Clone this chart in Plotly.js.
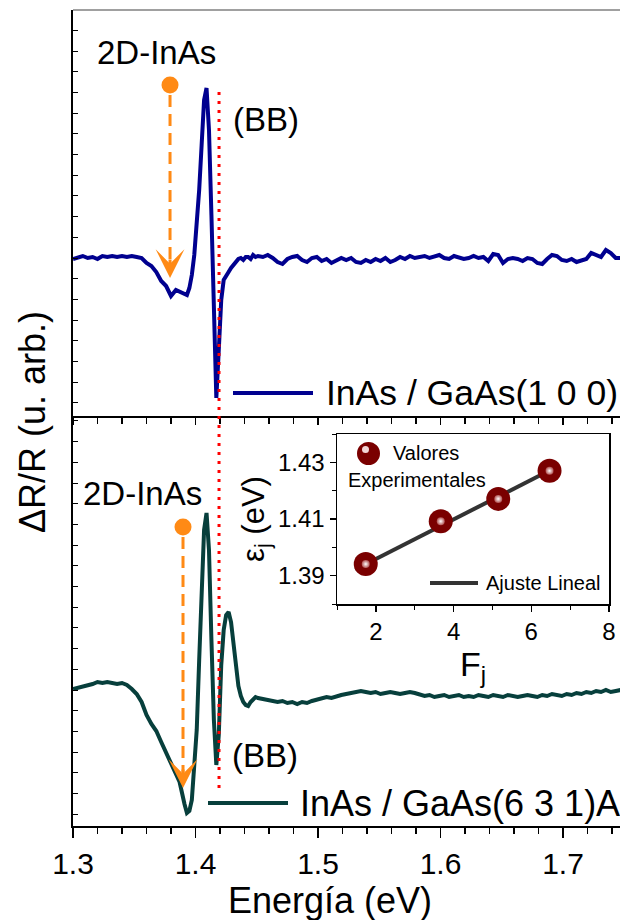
<!DOCTYPE html>
<html><head><meta charset="utf-8">
<script src="https://cdn.plot.ly/plotly-3.0.1.min.js"></script>
<style>html,body{margin:0;padding:0;background:#fff}#chart{width:620px;height:920px}</style>
</head><body><div id="chart"></div>
<script>
// ---- data (arbitrary units for ΔR/R) ----
const energy = [1.300,1.304,1.308,1.312,1.316,1.320,1.324,1.328,1.332,1.336,1.340,1.344,1.348,1.352,1.356,1.360,1.364,1.368,1.372,1.376,1.380,1.384,
1.387,
1.389,1.391,1.393,1.395,1.397,1.399,1.401,1.403,1.405,1.407,1.409,1.411,1.413,1.415,1.417,1.419,1.421,1.423,1.425,1.427,1.429,1.431,1.433,1.435,1.437,1.439,1.441,1.443,1.445,1.447,1.449,1.451,
1.455,1.459,1.463,1.467,1.471,1.475,1.479,1.483,1.487,1.491,1.495,1.499,1.503,1.507,1.511,1.515,1.519,1.523,1.527,1.531,1.535,1.539,1.543,1.547,1.551,1.555,1.559,1.563,1.567,1.571,1.575,1.579,1.583,1.587,1.591,1.595,1.599,1.603,1.607,1.611,1.615,1.619,1.623,1.627,1.631,1.635,1.639,1.643,1.647,1.651,1.655,1.659,1.663,1.667,1.671,1.675,1.679,1.683,1.687,1.691,1.695,1.699,1.703,1.707,1.711,1.715,1.719,1.723,1.727,1.731,1.735,1.739,1.743,1.747];

const dR_100 = [-1,1,2,0,1,-1,2,1,2,1,2,1,2,1,0,-5,-8,-14,-23,-28,-38,-32,
-34,
-35,-36,-37,-30,-17,3,33,68,113,158,170,128,43,-62,-140,-92,-42,-22,-17,-14,-10,-7,-4,-1,0,-2,1,1,-1,3,1,2,
1,3,0,-4,-6,-1,1,2,-2,-4,0,1,-3,-1,-5,-3,0,-2,0,-4,-5,-2,-4,-1,-3,0,-4,-2,1,-1,2,0,1,2,0,1,3,0,-1,2,1,-1,0,2,0,1,-3,4,3,-5,-1,0,-1,-3,0,-1,-5,-6,-1,3,2,-2,-3,-1,-4,-3,-1,5,3,1,8,5,0,0];

const dR_631 = [1,2,3,5,6,8,7,8,7,6,7,5,1,-4,-12,-25,-34,-41,-52,-62,-74,-84,
-92,
-104,-114,-123,-121,-110,-80,-40,30,100,160,177,140,50,-30,-75,-45,25,60,75,78,68,45,20,4,-6,-12,-15,-16,-12,-9,-7,-8,
-9,-10,-11,-12,-11,-13,-12,-14,-12,-13,-11,-10,-9,-7,-8,-6,-5,-4,-3,-2,-1,-2,-3,-2,-4,-3,-2,-3,-4,-3,-2,-3,-5,-6,-5,-7,-6,-5,-7,-6,-5,-7,-6,-7,-5,-6,-7,-5,-6,-7,-5,-6,-7,-6,-5,-6,-7,-5,-6,-4,-5,-6,-4,-5,-3,-4,-2,-3,-1,-2,0,-2,-1,0];

const Fj = [1.74, 3.67, 5.15, 6.47];
const Ej = [1.3941, 1.4092, 1.4171, 1.4270];
const fitF = [1.47, 6.47];
const fitE = [1.3922, 1.4271];

const xTicks = [1.3, 1.4, 1.5, 1.6, 1.7];
const xTickText = ['1.3', '1.4', '1.5', '1.6', '1.7'];
const insetXTicks = [2, 4, 6, 8];
const insetYTicks = [1.39, 1.41, 1.43];
const insetYText = ['1.39', '1.41', '1.43'];

// feature markers (energies / amplitudes)
const bbEnergy = 1.4192;
const inas2D_100 = {x: 1.3792, dot: 173, tip: -20};
const inas2D_631 = {x: 1.3898, dot: 163, tip: -98};

// ---- layout helpers ----
const FONT = 'Arial, Liberation Sans, sans-serif';
const W = 620, H = 920, L = 73, T = 10, B = 94;
const pw = W - L, ph = H - T - B;
const PX = x => (x - L) / pw;
const PY = y => (H - B - y) / ph;

const NAVY = '#00008f', TEAL = '#073f3c', ORANGE = '#ff8a15', DRED = '#7a0000';

const traces = [
  {x: energy, y: dR_100, xaxis: 'x2', yaxis: 'y2', mode: 'lines', line: {color: NAVY, width: 4}, showlegend: false},
  {x: energy, y: dR_631, xaxis: 'x', yaxis: 'y', mode: 'lines', line: {color: TEAL, width: 4}, showlegend: false},
  {x: fitF, y: fitE, xaxis: 'x3', yaxis: 'y3', mode: 'lines', line: {color: '#333333', width: 4}, showlegend: false},
  {x: Fj, y: Ej, xaxis: 'x3', yaxis: 'y3', mode: 'markers', marker: {size: 24, color: DRED}, showlegend: false},
  {x: Fj, y: Ej, xaxis: 'x3', yaxis: 'y3', mode: 'markers',
   marker: {size: 8, color: '#b05050', gradient: {type: 'radial', color: '#ffffff'}}, showlegend: false}
];

const axBase = {showgrid: false, zeroline: false, showline: true, linecolor: 'black', tickcolor: 'black'};

function label(px, py, text, size, xanchor) {
  return {xref: 'paper', yref: 'paper', x: PX(px), y: PY(py), text: text, showarrow: false,
          xanchor: xanchor || 'center', yanchor: 'middle', font: {size: size, family: FONT, color: 'black'}};
}

const layout = {
  width: W, height: H,
  margin: {l: L, r: 0, t: T, b: B},
  paper_bgcolor: 'white', plot_bgcolor: 'white',
  font: {family: FONT, color: 'black'},
  showlegend: false,
  xaxis: Object.assign({}, axBase, {
    domain: [0, 1], range: [1.3, 1.7465], anchor: 'y',
    tickmode: 'array', tickvals: xTicks, ticktext: xTickText,
    ticks: 'outside', ticklen: 10, tickwidth: 1.5, linewidth: 2,
    minor: {dtick: 0.02, tick0: 1.3, ticks: 'outside', ticklen: 6, tickwidth: 1.5, tickcolor: 'black'},
    tickfont: {size: 30, family: FONT}
  }),
  xaxis2: Object.assign({}, axBase, {
    domain: [0, 1], range: [1.3, 1.7465], anchor: 'y2', matches: 'x',
    showticklabels: false, tickmode: 'array', tickvals: xTicks,
    ticks: 'outside', ticklen: 7, tickwidth: 1.5, linewidth: 2,
    minor: {dtick: 0.02, tick0: 1.3, ticks: 'outside', ticklen: 6, tickwidth: 1.5, tickcolor: 'black'}
  }),
  yaxis: Object.assign({}, axBase, {
    domain: [0, PY(416)], range: [-136, 274], anchor: 'x',
    showticklabels: false, ticks: 'inside', ticklen: 5, tickwidth: 1, tick0: 0, dtick: 20.7, linewidth: 2
  }),
  yaxis2: Object.assign({}, axBase, {
    domain: [PY(416), 1], range: [-158, 248], anchor: 'x2',
    showticklabels: false, ticks: 'inside', ticklen: 5, tickwidth: 1, tick0: 0, dtick: 20.7, linewidth: 2
  }),
  xaxis3: Object.assign({}, axBase, {
    domain: [PX(337), PX(609)], range: [1, 8], anchor: 'y3', mirror: true,
    tickmode: 'array', tickvals: insetXTicks,
    ticks: 'outside', ticklen: 6, tickwidth: 1.5, linewidth: 1.5,
    minor: {dtick: 1, tick0: 1, ticks: 'outside', ticklen: 4, tickwidth: 1, tickcolor: 'black'},
    tickfont: {size: 24, family: FONT},
    title: {text: 'F<sub>j</sub>', font: {size: 34, family: FONT}, standoff: 0}
  }),
  yaxis3: Object.assign({}, axBase, {
    domain: [PY(604), PY(434)], range: [1.38, 1.44], anchor: 'x3', mirror: true,
    tickmode: 'array', tickvals: insetYTicks, ticktext: insetYText,
    ticks: 'outside', ticklen: 6, tickwidth: 1.5, linewidth: 1.5,
    minor: {dtick: 0.01, tick0: 1.38, ticks: 'outside', ticklen: 4, tickwidth: 1, tickcolor: 'black'},
    tickfont: {size: 24, family: FONT},
    title: {text: 'ε<sub>j</sub> (eV)', font: {size: 31, family: FONT}, standoff: 4}
  }),
  shapes: [
    {type: 'line', xref: 'paper', yref: 'paper', x0: 0, x1: 1, y0: 1, y1: 1, line: {color: '#808080', width: 1.5}},
    {type: 'line', xref: 'x', yref: 'paper', x0: bbEnergy, x1: bbEnergy, y0: PY(788), y1: PY(88),
     line: {color: '#ff0000', width: 3, dash: '3px,6px'}},
    {type: 'line', xref: 'x2', yref: 'y2', x0: inas2D_100.x, x1: inas2D_100.x, y0: inas2D_100.dot - 10, y1: inas2D_100.tip + 16,
     line: {color: ORANGE, width: 3, dash: '12px,7px'}},
    {type: 'line', xref: 'x', yref: 'y', x0: inas2D_631.x, x1: inas2D_631.x, y0: inas2D_631.dot - 10, y1: inas2D_631.tip + 16,
     line: {color: ORANGE, width: 3, dash: '12px,7px'}},
    {type: 'circle', xref: 'x2', yref: 'y2', xsizemode: 'pixel', ysizemode: 'pixel',
     xanchor: inas2D_100.x, yanchor: inas2D_100.dot, x0: -8.5, x1: 8.5, y0: -8.5, y1: 8.5,
     fillcolor: ORANGE, line: {width: 0}},
    {type: 'circle', xref: 'x', yref: 'y', xsizemode: 'pixel', ysizemode: 'pixel',
     xanchor: inas2D_631.x, yanchor: inas2D_631.dot, x0: -8.5, x1: 8.5, y0: -8.5, y1: 8.5,
     fillcolor: ORANGE, line: {width: 0}},
    {type: 'line', xref: 'paper', yref: 'paper', x0: PX(233), x1: PX(313), y0: PY(393), y1: PY(393), line: {color: NAVY, width: 4}},
    {type: 'line', xref: 'paper', yref: 'paper', x0: PX(208), x1: PX(288), y0: PY(803), y1: PY(803), line: {color: TEAL, width: 4}},
    {type: 'circle', xref: 'paper', yref: 'paper', x0: PX(357), x1: PX(380), y0: PY(465), y1: PY(442), fillcolor: DRED, line: {width: 0}},
    {type: 'circle', xref: 'paper', yref: 'paper', x0: PX(362), x1: PX(369), y0: PY(453), y1: PY(446), fillcolor: '#f2d6d6', line: {width: 0}},
    {type: 'line', xref: 'paper', yref: 'paper', x0: PX(430), x1: PX(478), y0: PY(583), y1: PY(583), line: {color: '#333333', width: 4}}
  ],
  annotations: [
    Object.assign(label(32, 422, 'ΔR/R (u. arb.)', 36), {textangle: -90}),
    label(330, 901, 'Energía (eV)', 36),
    label(156, 52, '2D-InAs', 33),
    label(266, 120, '(BB)', 33),
    label(142, 493, '2D-InAs', 33),
    label(265, 755, '(BB)', 33),
    label(324, 393, 'InAs / GaAs(1 0 0)', 35.5, 'left'),
    label(298, 803, 'InAs / GaAs(6 3 1)A', 36, 'left'),
    label(391, 453, 'Valores', 20, 'left'),
    label(417, 480, 'Experimentales', 20),
    label(484, 583, 'Ajuste Lineal', 20, 'left'),
    {xref: 'x2', yref: 'y2', x: inas2D_100.x, y: inas2D_100.tip, ax: 0, ay: -20, text: '', showarrow: true,
     arrowhead: 3, arrowsize: 1.6, arrowwidth: 3, arrowcolor: ORANGE, standoff: 0},
    {xref: 'x', yref: 'y', x: inas2D_631.x, y: inas2D_631.tip, ax: 0, ay: -20, text: '', showarrow: true,
     arrowhead: 3, arrowsize: 1.6, arrowwidth: 3, arrowcolor: ORANGE, standoff: 0}
  ]
};

Plotly.newPlot('chart', traces, layout, {staticPlot: true, displayModeBar: false});
</script>
</body></html>
